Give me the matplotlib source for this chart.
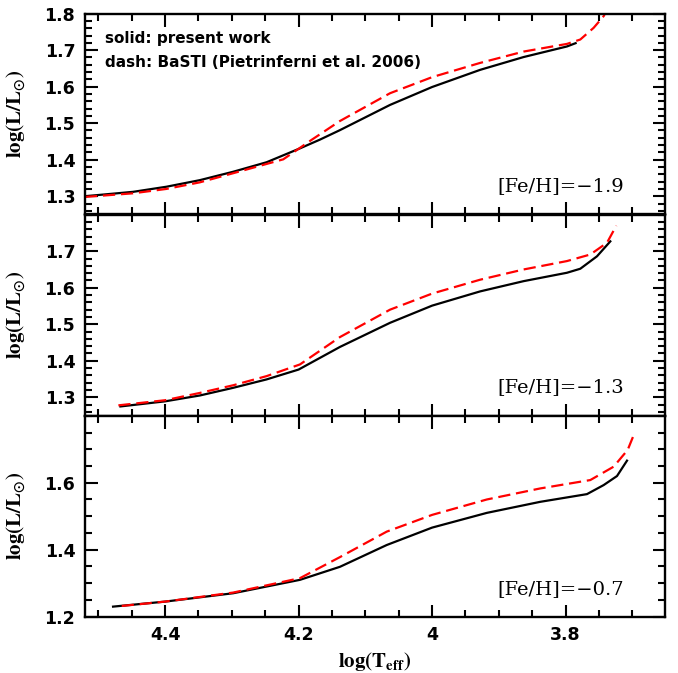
#!/usr/bin/env python3

import matplotlib.pyplot as plt
import matplotlib.ticker as ticker

# log(Teff), log(L/Lsun) along each track
# [Fe/H] = -1.9
teff_a_solid = [4.52, 4.448, 4.398, 4.348, 4.298, 4.248, 4.198, 4.168, 4.138, 4.063, 4.0, 3.928, 3.863, 3.798, 3.785]
lum_a_solid = [1.300, 1.312, 1.326, 1.344, 1.367, 1.393, 1.431, 1.455, 1.481, 1.550, 1.599, 1.646, 1.681, 1.710, 1.719]
teff_a_dash = [4.52, 4.448, 4.398, 4.348, 4.298, 4.223, 4.18, 4.138, 4.063, 4.0, 3.928, 3.863, 3.798, 3.778, 3.758, 3.743, 3.738]
lum_a_dash = [1.298, 1.308, 1.320, 1.338, 1.363, 1.401, 1.455, 1.506, 1.582, 1.626, 1.665, 1.696, 1.717, 1.729, 1.761, 1.793, 1.810]

# [Fe/H] = -1.3
teff_b_solid = [4.467, 4.40, 4.348, 4.298, 4.248, 4.2, 4.138, 4.063, 4.0, 3.928, 3.863, 3.798, 3.778, 3.753, 3.733]
lum_b_solid = [1.275, 1.289, 1.305, 1.326, 1.349, 1.376, 1.438, 1.504, 1.551, 1.590, 1.618, 1.641, 1.652, 1.686, 1.727]
teff_b_dash = [4.47, 4.40, 4.348, 4.298, 4.248, 4.198, 4.138, 4.063, 4.0, 3.928, 3.863, 3.798, 3.763, 3.738, 3.724]
lum_b_dash = [1.278, 1.292, 1.312, 1.333, 1.358, 1.390, 1.465, 1.540, 1.584, 1.622, 1.650, 1.673, 1.691, 1.723, 1.770]

# [Fe/H] = -0.7
teff_c_solid = [4.478, 4.40, 4.298, 4.198, 4.138, 4.068, 4.0, 3.918, 3.838, 3.768, 3.743, 3.723, 3.708]
lum_c_solid = [1.230, 1.245, 1.270, 1.310, 1.349, 1.414, 1.466, 1.510, 1.543, 1.566, 1.593, 1.620, 1.666]
teff_c_dash = [4.465, 4.40, 4.298, 4.198, 4.138, 4.068, 4.0, 3.918, 3.838, 3.763, 3.728, 3.707, 3.696]
lum_c_dash = [1.232, 1.245, 1.272, 1.315, 1.378, 1.454, 1.504, 1.550, 1.583, 1.608, 1.648, 1.698, 1.752]

feh_labels = ["[Fe/H]=\u22121.9", "[Fe/H]=\u22121.3", "[Fe/H]=\u22120.7"]
ylims = [(1.25, 1.8), (1.25, 1.8), (1.2, 1.8)]
yticks = [[1.3, 1.4, 1.5, 1.6, 1.7, 1.8], [1.3, 1.4, 1.5, 1.6, 1.7], [1.2, 1.4, 1.6]]
yminor = [0.02, 0.02, 0.05]
xticks = [4.4, 4.2, 4.0, 3.8]


def draw():
    plt.rcParams['font.family'] = 'DejaVu Sans'
    plt.rcParams['font.size'] = 12
    plt.rcParams['mathtext.fontset'] = 'stix'
    plt.rcParams['axes.linewidth'] = 1.7

    fig = plt.figure(figsize=(6.78, 6.73), dpi=100)
    left, width, height = 0.1254, 0.8555, 0.2985
    bottoms = [0.6813, 0.3825, 0.0837]

    tracks = [
        (teff_a_solid, lum_a_solid, teff_a_dash, lum_a_dash),
        (teff_b_solid, lum_b_solid, teff_b_dash, lum_b_dash),
        (teff_c_solid, lum_c_solid, teff_c_dash, lum_c_dash),
    ]

    axes = []
    for i, (xs, ys, xd, yd) in enumerate(tracks):
        ax = fig.add_axes([left, bottoms[i], width, height])
        axes.append(ax)
        ax.plot(xs, ys, color='black', lw=1.6, solid_joinstyle='round')
        ax.plot(xd, yd, color='#ff0000', lw=1.6, dashes=(5.5, 2.6))

        ax.set_xlim(4.52, 3.651)
        ax.set_ylim(*ylims[i])
        ax.set_xticks(xticks)
        ax.xaxis.set_minor_locator(ticker.MultipleLocator(0.05))
        ax.set_yticks(yticks[i])
        ax.yaxis.set_minor_locator(ticker.MultipleLocator(yminor[i]))
        ax.yaxis.set_major_formatter(ticker.FormatStrFormatter('%g'))
        ax.xaxis.set_major_formatter(ticker.FormatStrFormatter('%g'))
        ax.tick_params(which='both', direction='in', top=True, right=True, width=1.5)
        ax.tick_params(which='major', length=9, labelsize=12.5, pad=7)
        ax.tick_params(which='minor', length=5)
        for lbl in ax.get_xticklabels() + ax.get_yticklabels():
            lbl.set_fontweight('bold')
        if i < 2:
            ax.tick_params(labelbottom=False)

        ax.set_ylabel(r'$\mathbf{log(L/L_{\odot})}$', fontsize=15, labelpad=6)
        ax.text(0.93, 0.115, feh_labels[i], transform=ax.transAxes,
                ha='right', va='baseline', fontsize=14, family='DejaVu Serif')

    axes[0].text(0.035, 0.855, "solid: present work", transform=axes[0].transAxes,
                 fontsize=11, fontweight='bold', ha='left', va='baseline')
    axes[0].text(0.035, 0.735, "dash: BaSTI (Pietrinferni et al. 2006)",
                 transform=axes[0].transAxes, fontsize=11, fontweight='bold',
                 ha='left', va='baseline')
    axes[2].set_xlabel(r'$\mathbf{log(T_{eff})}$', fontsize=15, labelpad=4)

    for ax in axes:
        ax.yaxis.set_label_coords(-0.1, 0.5)

    fig.savefig('out.png', dpi=100)


if __name__ == "__main__":
    draw()
